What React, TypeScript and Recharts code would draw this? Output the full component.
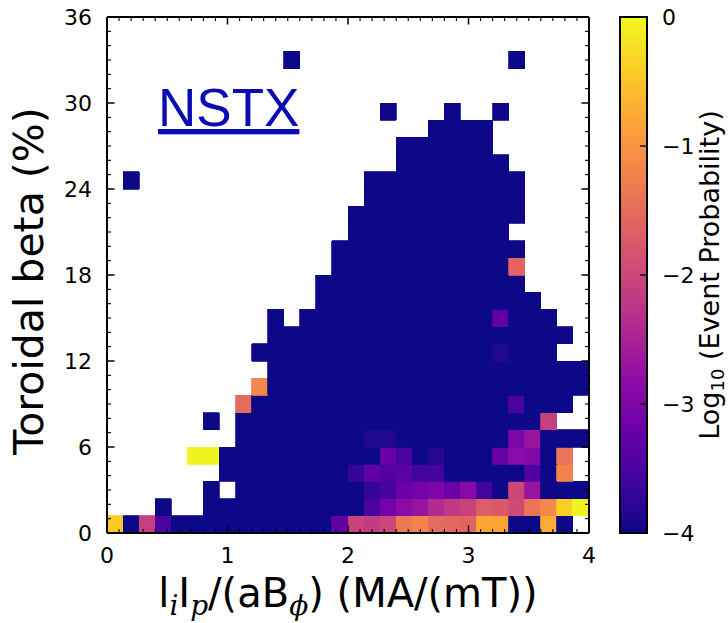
import React from 'react'
import { ComposedChart, XAxis, YAxis, ReferenceArea, Scatter } from 'recharts'

// grid of the 2D histogram: 30 bins over li*Ip/(a*Bphi) in [0, 4], 1.2 % bins in beta
const X_MAX = 4
const X_BINS = 30
const Y_MAX = 36
const Y_BIN_TENTHS = 12
const LOG_MIN = -4
const LOG_MAX = 0

const xMajorTicks = [0, 1, 2, 3, 4]
const yMajorTicks = [0, 6, 12, 18, 24, 30, 36]
const cbarTicks = [0, -1, -2, -3, -4]
const X_MINOR_STEPS = 40
const Y_MINOR_STEPS = 36

// occupied bins sitting at the floor probability, [fromCol, toCol] runs per beta row
const floorRuns: number[][][] = [
  [[0, 28]],
  [[3, 3], [6, 29]],
  [[6, 6], [8, 29]],
  [[7, 28]],
  [[5, 28]],
  [[8, 29]],
  [[6, 6], [8, 27]],
  [[8, 28]],
  [[9, 29]],
  [[10, 29]],
  [[9, 27]],
  [[10, 28]],
  [[10, 10], [12, 27]],
  [[13, 26]],
  [[13, 25]],
  [[14, 25]],
  [[14, 25]],
  [[15, 24]],
  [[15, 25]],
  [[16, 25]],
  [[1, 1], [16, 25]],
  [[18, 24]],
  [[18, 23]],
  [[20, 23]],
  [[17, 17], [21, 21], [24, 24]],
  [],
  [],
  [[11, 11], [25, 25]],
]

// bins above the floor: [col, row, log10 event probability]
const hotBins: number[][] = [
  [0, 0, -0.45], [2, 0, -2.1], [3, 0, -3.5], [14, 0, -3.3], [15, 0, -2.05],
  [16, 0, -2.15], [17, 0, -2.0], [18, 0, -1.35], [19, 0, -1.2], [20, 0, -1.5],
  [21, 0, -1.55], [22, 0, -1.6], [23, 0, -0.8], [24, 0, -0.85], [27, 0, -0.75],
  [16, 1, -3.5], [17, 1, -3.1], [18, 1, -2.85], [19, 1, -2.7], [20, 1, -2.4],
  [21, 1, -2.2], [22, 1, -2.05], [23, 1, -1.7], [24, 1, -1.75], [25, 1, -1.95],
  [26, 1, -1.4], [27, 1, -1.15], [28, 1, -0.4], [29, 1, -0.05],
  [16, 2, -3.7], [17, 2, -3.55], [18, 2, -3.2], [19, 2, -3.1], [20, 2, -3.0],
  [21, 2, -3.2], [22, 2, -2.9], [23, 2, -3.6], [25, 2, -2.0], [26, 2, -2.7],
  [15, 3, -3.7], [16, 3, -3.3], [17, 3, -3.45], [18, 3, -3.35], [19, 3, -3.6],
  [20, 3, -3.55], [26, 3, -3.45], [28, 3, -1.2],
  [5, 4, -0.05], [6, 4, -0.05], [17, 4, -3.2], [18, 4, -3.5], [20, 4, -3.8],
  [24, 4, -3.25], [25, 4, -2.85], [26, 4, -2.95], [28, 4, -1.4],
  [16, 5, -3.85], [17, 5, -3.85], [25, 5, -3.0], [26, 5, -2.7],
  [27, 6, -2.1],
  [8, 7, -1.5], [25, 7, -3.5],
  [9, 8, -1.15],
  [24, 10, -3.85],
  [24, 12, -3.3],
  [25, 15, -1.6],
]

// matplotlib "plasma" sampled at 11 even steps
const PLASMA = [
  '#0d0887', '#41049d', '#6a00a8', '#8f0da4', '#b12a90', '#cc4778',
  '#e16462', '#f2844b', '#fca636', '#fcce25', '#f0f921',
]

const rgb = (h: string) => [1, 3, 5].map((i) => parseInt(h.slice(i, i + 2), 16))

const plasma = (logP: number) => {
  const t = Math.min(1, Math.max(0, (logP - LOG_MIN) / (LOG_MAX - LOG_MIN)))
  const s = t * (PLASMA.length - 1)
  const i = Math.min(PLASMA.length - 2, Math.floor(s))
  const f = s - i
  const a = rgb(PLASMA[i])
  const b = rgb(PLASMA[i + 1])
  const c = a.map((v, k) => Math.round(v + (b[k] - v) * f))
  return `rgb(${c[0]},${c[1]},${c[2]})`
}

type Cell = { col: number; row: number; logP: number; x: number; y: number }

const cells: Cell[] = (() => {
  const out: Cell[] = []
  const add = (col: number, row: number, logP: number) =>
    out.push({
      col,
      row,
      logP,
      x: ((col + 0.5) * X_MAX) / X_BINS,
      y: ((row + 0.5) * Y_BIN_TENTHS) / 10,
    })
  floorRuns.forEach((runs, row) => {
    runs.forEach(([from, to]) => {
      for (let col = from; col <= to; col++) add(col, row, LOG_MIN)
    })
  })
  hotBins.forEach(([col, row, logP]) => {
    const hit = out.find((c) => c.col === col && c.row === row)
    if (hit) hit.logP = logP
    else add(col, row, logP)
  })
  return out
})()

const xTicks = Array.from({ length: X_MINOR_STEPS + 1 }, (_, i) => (i * X_MAX) / X_MINOR_STEPS)
const yTicks = Array.from({ length: Y_MINOR_STEPS + 1 }, (_, i) => (i * Y_MAX) / Y_MINOR_STEPS)

const W = 728
const H = 623
const FONT = 'DejaVu Sans, sans-serif'

const FrameTick = (props: any) => {
  const { x, y, payload, side, majors, labelled } = props
  const v: number = payload.value
  const major = majors.some((m: number) => Math.abs(m - v) < 1e-6)
  const len = major ? 7.5 : 4
  const dx = side === 'left' ? len : side === 'right' ? -len : 0
  const dy = side === 'bottom' ? -len : side === 'top' ? len : 0
  return (
    <g>
      <line x1={x} y1={y} x2={x + dx} y2={y + dy} stroke="#000" strokeWidth={major ? 1.5 : 1.1} />
      {labelled && major && side === 'bottom' && (
        <text x={x} y={y + 30} textAnchor="middle" fontFamily={FONT} fontSize={22} fill="#000">
          {v}
        </text>
      )}
      {labelled && major && side === 'left' && (
        <text x={x - 15} y={y} dy="0.36em" textAnchor="end" fontFamily={FONT} fontSize={22} fill="#000">
          {v}
        </text>
      )}
    </g>
  )
}

const CbarTick = (props: any) => {
  const { x, y, payload } = props
  const v: number = payload.value
  return (
    <g>
      <line x1={x} y1={y} x2={x - 7} y2={y} stroke="#000" strokeWidth={1.3} />
      <text x={x + 15} y={y} dy="0.36em" textAnchor="start" fontFamily={FONT} fontSize={22} fill="#000">
        {v < 0 ? `\u2212${Math.abs(v)}` : v}
      </text>
    </g>
  )
}

const sub = { fontFamily: 'DejaVu Serif, serif', fontStyle: 'italic', fontSize: 28 }

const XLabel = (props: any) => {
  const { x, y, width } = props.viewBox
  return (
    <text x={x + width / 2} y={y + 74} textAnchor="middle" fontFamily={FONT} fontSize={40} fill="#000">
      l<tspan {...sub} dy={8}>i</tspan>
      <tspan dy={-8}>I</tspan>
      <tspan {...sub} dy={8}>p</tspan>
      <tspan dy={-8}>/(aB</tspan>
      <tspan {...sub} dy={8}>ϕ</tspan>
      <tspan dy={-8}>) (MA/(mT))</tspan>
    </text>
  )
}

const YLabel = (props: any) => {
  const { x, y, width, height } = props.viewBox
  const cx = x + width - 64
  const cy = y + height / 2 + 6
  return (
    <text x={cx} y={cy} transform={`rotate(-90 ${cx} ${cy})`} textAnchor="middle" fontFamily={FONT} fontSize={41} fill="#000">
      Toroidal beta (%)
    </text>
  )
}

const CbarLabel = (props: any) => {
  const { x, y, height } = props.viewBox
  const cx = x + 72
  const cy = y + height / 2
  return (
    <text x={cx} y={cy} transform={`rotate(-90 ${cx} ${cy})`} textAnchor="middle" fontFamily={FONT} fontSize={27} fill="#000">
      Log<tspan fontSize={18} dy={5}>10</tspan>
      <tspan dy={-5}> (Event Probability)</tspan>
    </text>
  )
}

const NoMark = () => <g />

const abs: React.CSSProperties = { position: 'absolute', left: 0, top: 0 }

const cbarAnchor = [{ x: 0.5, y: (LOG_MIN + LOG_MAX) / 2 }]

// every frame axis takes 1px of room; the plot box is 107..589 x 17..533
const frameAxis = {
  type: 'number' as const,
  interval: 0 as const,
  tickSize: 0,
  tickMargin: 0,
  tickLine: false,
  axisLine: { stroke: '#000', strokeWidth: 2 },
  allowDataOverflow: true,
}

export default function App() {
  return (
    <div style={{ ...abs, width: W, height: H, background: '#fff' }}>
      <div style={abs}>
        <ComposedChart width={W} height={H} data={cells} margin={{ top: 16, right: W - 590, bottom: H - 534, left: 106 }}>
          {cells.map((c) => {
            const fill = plasma(c.logP)
            return (
              <ReferenceArea
                key={`${c.col}-${c.row}`}
                xAxisId="b"
                yAxisId="l"
                x1={(c.col * X_MAX) / X_BINS}
                x2={((c.col + 1) * X_MAX) / X_BINS}
                y1={(c.row * Y_BIN_TENTHS) / 10}
                y2={((c.row + 1) * Y_BIN_TENTHS) / 10}
                fill={fill}
                fillOpacity={1}
                stroke={fill}
                strokeWidth={0.8}
                shapeRendering="crispEdges"
                ifOverflow="visible"
              />
            )
          })}
          <Scatter data={cells} dataKey="y" xAxisId="b" yAxisId="l" shape={NoMark} isAnimationActive={false} />
          <Scatter data={cells} dataKey="y" xAxisId="t" yAxisId="r" shape={NoMark} isAnimationActive={false} />
          <XAxis
            {...frameAxis}
            xAxisId="b"
            dataKey="x"
            domain={[0, X_MAX]}
            ticks={xTicks}
            height={1}
            tick={(p: any) => <FrameTick {...p} side="bottom" majors={xMajorTicks} labelled />}
            label={<XLabel />}
          />
          <XAxis
            {...frameAxis}
            xAxisId="t"
            dataKey="x"
            orientation="top"
            domain={[0, X_MAX]}
            ticks={xTicks}
            height={1}
            tick={(p: any) => <FrameTick {...p} side="top" majors={xMajorTicks} />}
          />
          <YAxis
            {...frameAxis}
            yAxisId="l"
            dataKey="y"
            domain={[0, Y_MAX]}
            ticks={yTicks}
            width={1}
            tick={(p: any) => <FrameTick {...p} side="left" majors={yMajorTicks} labelled />}
            label={<YLabel />}
          />
          <YAxis
            {...frameAxis}
            yAxisId="r"
            dataKey="y"
            orientation="right"
            domain={[0, Y_MAX]}
            ticks={yTicks}
            width={1}
            tick={(p: any) => <FrameTick {...p} side="right" majors={yMajorTicks} />}
          />
        </ComposedChart>
      </div>
      <div style={abs}>
        <ComposedChart width={W} height={H} data={cbarAnchor} margin={{ top: 17, right: W - 648, bottom: H - 533, left: 620 }}>
          <defs>
            <linearGradient id="plasmaBar" x1="0" y1="1" x2="0" y2="0">
              {PLASMA.map((c, i) => (
                <stop key={c} offset={i / (PLASMA.length - 1)} stopColor={c} />
              ))}
            </linearGradient>
          </defs>
          <ReferenceArea
            xAxisId="cb"
            yAxisId="cb"
            x1={0}
            x2={1}
            y1={LOG_MIN}
            y2={LOG_MAX}
            fill="url(#plasmaBar)"
            fillOpacity={1}
            stroke="#000"
            strokeWidth={2}
            ifOverflow="visible"
          />
          <Scatter dataKey="y" xAxisId="cb" yAxisId="cb" shape={NoMark} isAnimationActive={false} />
          <XAxis xAxisId="cb" dataKey="x" type="number" domain={[0, 1]} hide />
          <YAxis
            yAxisId="cb"
            dataKey="y"
            orientation="right"
            type="number"
            domain={[LOG_MIN, LOG_MAX]}
            ticks={cbarTicks}
            interval={0}
            width={1}
            tickSize={0}
            tickMargin={0}
            tickLine={false}
            axisLine={false}
            tick={(p: any) => <CbarTick {...p} />}
            label={<CbarLabel />}
          />
        </ComposedChart>
      </div>
      <svg width={W} height={H} style={{ ...abs, pointerEvents: 'none' }}>
        <text x={158} y={126} fontFamily="Liberation Sans, Arial, sans-serif" fontSize={53} fill="#0a0ab4" textDecoration="underline">
          NSTX
        </text>
      </svg>
    </div>
  )
}
